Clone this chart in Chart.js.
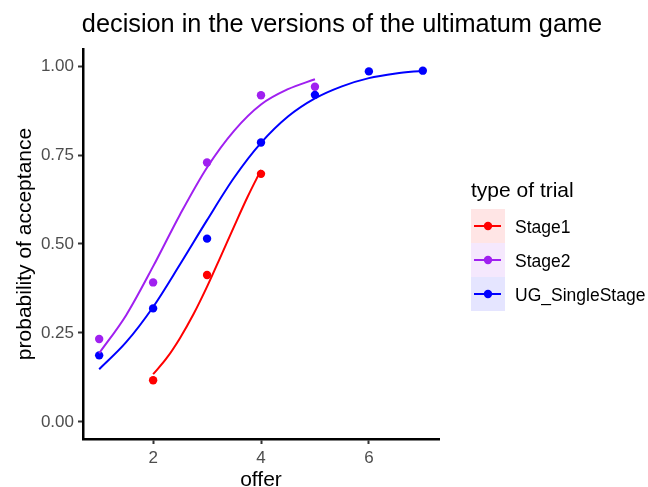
<!DOCTYPE html>
<html>
<head>
<meta charset="utf-8">
<script src="https://cdn.jsdelivr.net/npm/chart.js"></script>
<style>
  html, body { margin: 0; padding: 0; background: #ffffff; }
  #wrap { width: 648px; height: 487px; position: relative; }
  canvas { display: block; }
</style>
</head>
<body>
<div id="wrap"><canvas id="c" width="648" height="487"></canvas></div>
<script>
// ---- data ----
const seriesNames = ["Stage1", "Stage2", "UG_SingleStage"];

const offerStage1 = [2, 3, 4];
const accStage1   = [0.117, 0.413, 0.697];
const offerStage2 = [1, 2, 3, 4, 5];
const accStage2   = [0.233, 0.392, 0.729, 0.918, 0.942];
const offerUG     = [1, 2, 3, 4, 5, 6, 7];
const accUG       = [0.187, 0.319, 0.515, 0.785, 0.919, 0.985, 0.987];

// fitted (smooth) curves
const fitXStage1 = [2, 2.25, 2.5, 2.75, 3, 3.25, 3.5, 3.75, 4];
const fitStage1  = [0.134, 0.179, 0.236, 0.303, 0.380, 0.464, 0.549, 0.632, 0.708];
const fitXStage2 = [1, 1.5, 2, 2.5, 3, 3.5, 4, 4.5, 5];
const fitStage2  = [0.193, 0.300, 0.437, 0.583, 0.715, 0.818, 0.892, 0.935, 0.963];
const fitXUG     = [1, 1.5, 2, 2.5, 3, 3.5, 4, 4.5, 5, 5.5, 6, 6.5, 7];
const fitUG      = [0.148, 0.224, 0.323, 0.443, 0.567, 0.686, 0.784, 0.858, 0.909, 0.943, 0.966, 0.979, 0.987];

const xTicks = [2, 4, 6];
const yTicks = [0, 0.25, 0.5, 0.75, 1];

const titleText   = "decision in the versions of the ultimatum game";
const xTitle      = "offer";
const yTitle      = "probability of acceptance";
const legendTitle = "type of trial";

// ---- styles ----
const colors = ["#FF0000", "#A020F0", "#0000FF"];
const keyFills = ["rgba(255,0,0,0.1)", "rgba(160,32,240,0.1)", "rgba(0,0,255,0.1)"];
const FONT = "'Liberation Sans', Arial, Helvetica, sans-serif";

Chart.defaults.font.family = FONT;

function pts(xs, ys) { return xs.map((x, i) => ({ x: x, y: ys[i] })); }

const pointSets = [pts(offerStage1, accStage1), pts(offerStage2, accStage2), pts(offerUG, accUG)];
const fitSets = [pts(fitXStage1, fitStage1), pts(fitXStage2, fitStage2), pts(fitXUG, fitUG)];

const datasets = [];
pointSets.forEach((d, i) => {
  datasets.push({
    type: 'scatter', label: seriesNames[i] + " points", data: d, xAxisID: 'x', yAxisID: 'y',
    backgroundColor: colors[i], borderColor: colors[i], borderWidth: 0,
    pointRadius: 4.2, pointHoverRadius: 4.2, order: 10 - i
  });
});
fitSets.forEach((d, i) => {
  datasets.push({
    type: 'line', label: seriesNames[i], data: d, xAxisID: 'x', yAxisID: 'y',
    borderColor: colors[i], backgroundColor: colors[i], borderWidth: 2,
    pointRadius: 0, fill: false, cubicInterpolationMode: 'monotone', order: 5 - i
  });
});

const legendPlugin = {
  id: 'ggLegend',
  afterDraw(chart) {
    const ctx = chart.ctx;
    ctx.save();
    const x0 = 471, y0 = 209, kw = 34, kh = 34;
    ctx.fillStyle = "#000000";
    ctx.textAlign = "left";
    ctx.textBaseline = "alphabetic";
    ctx.font = "21px " + FONT;
    ctx.fillText(legendTitle, x0, 197);
    ctx.font = "17.5px " + FONT;
    seriesNames.forEach((name, i) => {
      const top = y0 + i * kh;
      const cy = top + kh / 2;
      ctx.fillStyle = keyFills[i];
      ctx.fillRect(x0, top, kw, kh);
      ctx.strokeStyle = colors[i];
      ctx.lineWidth = 2;
      ctx.beginPath();
      ctx.moveTo(x0 + 3, cy);
      ctx.lineTo(x0 + 30, cy);
      ctx.stroke();
      ctx.fillStyle = colors[i];
      ctx.beginPath();
      ctx.arc(x0 + 17, cy, 4.2, 0, Math.PI * 2);
      ctx.fill();
      ctx.fillStyle = "#000000";
      ctx.fillText(name, 515, cy + 7);
    });
    ctx.restore();
  }
};

new Chart(document.getElementById('c'), {
  data: { datasets: datasets },
  options: {
    responsive: false,
    animation: false,
    devicePixelRatio: 1,
    layout: { padding: { left: 36, right: 0, top: 0, bottom: 0 } },
    plugins: {
      legend: { display: false },
      tooltip: { enabled: false },
      title: {
        display: true, text: titleText, align: 'center', fullSize: true,
        color: "#000000", font: { size: 25.3, weight: 'normal', family: FONT },
        padding: { top: 10, bottom: 8.6 }
      }
    },
    scales: {
      x: {
        type: 'linear', position: 'bottom', min: 0.7, max: 7.3,
        afterBuildTicks: s => { s.ticks = xTicks.map(v => ({ value: v })); },
        afterFit: s => { s.height = 48; },
        ticks: { color: "#4D4D4D", font: { size: 17 }, padding: 4, callback: v => String(v) },
        grid: { display: true, drawOnChartArea: false, drawTicks: true, tickLength: 5, tickWidth: 2, tickColor: "#333333" },
        border: { display: true, color: "#000000", width: 2.5 },
        title: { display: true, text: xTitle, color: "#000000", font: { size: 21 }, padding: { top: 0, bottom: -6 } }
      },
      y: {
        type: 'linear', position: 'left', min: -0.048, max: 1.048,
        afterBuildTicks: s => { s.ticks = yTicks.map(v => ({ value: v })); },
        afterFit: s => { s.width = 47; },
        ticks: { color: "#4D4D4D", font: { size: 17 }, padding: 4, callback: v => Number(v).toFixed(2) },
        grid: { display: true, drawOnChartArea: false, drawTicks: true, tickLength: 5, tickWidth: 2, tickColor: "#333333" },
        border: { display: true, color: "#000000", width: 2.5 },
        title: { display: true, text: yTitle, color: "#000000", font: { size: 21 }, padding: { top: -23.6, bottom: 0 } }
      },
      legendSpace: {
        type: 'linear', position: 'right', display: true,
        afterFit: s => { s.width = 209; },
        ticks: { display: false },
        grid: { display: false, drawTicks: false },
        border: { display: false },
        title: { display: false }
      }
    }
  },
  plugins: [legendPlugin]
});
</script>
</body>
</html>
